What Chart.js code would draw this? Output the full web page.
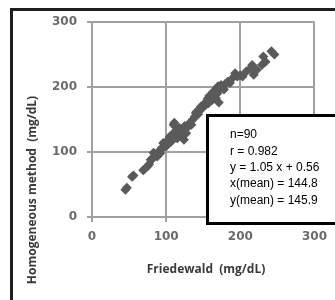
<!DOCTYPE html>
<html>
<head>
<meta charset="utf-8">
<script src="https://cdn.jsdelivr.net/npm/chart.js@4/dist/chart.umd.min.js"></script>
<style>
  body { margin: 0; background: #fff; }
  #wrap { width: 335px; height: 300px; }
</style>
</head>
<body>
<div id="wrap"><canvas id="scatter" width="335" height="300"></canvas></div>
<script>
// Friedewald vs homogeneous method
const friedewald = [45, 47, 54, 56, 69, 71, 75, 77, 79, 82, 83, 86, 88, 90, 92, 94, 96, 97, 99, 100,
  101, 103, 104, 105, 107, 108, 109, 110, 111, 113, 114, 115, 116, 118, 120, 122, 124, 125, 127, 128,
  131, 134, 136, 139, 140, 141, 143, 145, 147, 149, 151, 153, 155, 156, 157, 158, 160, 161, 162, 163,
  164, 165, 166, 167, 168, 169, 170, 171, 172, 174, 176, 178, 180, 183, 186, 189, 193, 196, 200, 203,
  208, 213, 216, 218, 222, 229, 231, 234, 242, 246];
const homogeneous = [42, 45, 62, 64, 72, 74, 78, 81, 88, 90, 99, 95, 93, 101, 98, 106, 114, 108, 110, 109,
  117, 113, 119, 124, 116, 127, 122, 142, 145, 139, 134, 121, 131, 137, 128, 134, 119, 140, 129, 137,
  144, 142, 150, 155, 160, 162, 158, 163, 170, 168, 174, 172, 178, 182, 175, 186, 184, 189, 180, 192,
  186, 191, 195, 183, 198, 190, 201, 176, 196, 203, 199, 196, 205, 208, 206, 213, 221, 216, 218, 216,
  224, 228, 234, 219, 226, 234, 247, 239, 255, 250];
const tickValues = [0, 100, 200, 300];
const statsLines = ["n=90", "r = 0.982", "y = 1.05 x + 0.56", "x(mean) = 144.8", "y(mean) = 145.9"];
const xTitle = "Friedewald  (mg/dL)";
const yTitle = "Homogeneous method  (mg/dL)";

const points = friedewald.map((x, i) => ({ x: x, y: homogeneous[i] }));
const gridColor = "#a0a0a0";

const frame = {
  id: "frame",
  beforeDraw(chart) {
    const ctx = chart.ctx;
    ctx.save();
    ctx.strokeStyle = "#1e1e1e";
    ctx.lineWidth = 3;
    ctx.strokeRect(11.5, 9.5, 400, 400);
    // axis titles
    ctx.fillStyle = "#3a3a3a";
    ctx.font = "bold 12px 'Open Sans'";
    ctx.textAlign = "center";
    ctx.textBaseline = "middle";
    ctx.fillText(xTitle, 206, 270);
    ctx.translate(33, 190);
    ctx.rotate(-Math.PI / 2);
    ctx.fillText(yTitle, 0, 0);
    ctx.restore();
  },
  afterDatasetsDraw(chart) {
    // stats box sits on top of the points
    const ctx = chart.ctx;
    ctx.save();
    ctx.fillStyle = "#fff";
    ctx.fillRect(206, 114, 140, 110);
    ctx.strokeStyle = "#000";
    ctx.lineWidth = 3;
    ctx.strokeRect(207.5, 115.5, 140, 108);
    ctx.fillStyle = "#000";
    ctx.font = "12px 'Liberation Sans'";
    ctx.textAlign = "left";
    ctx.textBaseline = "middle";
    statsLines.forEach((line, i) => {
      ctx.fillText(line, 230, 135 + i * 16.3);
    });
    ctx.restore();
  }
};

const tickFont = { family: "'DejaVu Sans'", size: 12, weight: "bold" };
const step = tickValues[1] - tickValues[0];

new Chart(document.getElementById("scatter"), {
  type: "scatter",
  data: {
    datasets: [{
      data: points,
      pointStyle: "rectRot",
      pointRadius: 5,
      pointBorderWidth: 0,
      pointBackgroundColor: "#5a5a5a",
      pointBorderColor: "#5a5a5a"
    }]
  },
  options: {
    responsive: false,
    animation: false,
    events: [],
    layout: { padding: { top: 22, right: 0, left: 0, bottom: 0 } },
    plugins: { legend: { display: false }, tooltip: { enabled: false } },
    scales: {
      x: {
        type: "linear",
        min: tickValues[0],
        max: tickValues[tickValues.length - 1],
        afterFit: (scale) => { scale.height = 83; },
        grid: { color: gridColor, lineWidth: 2, tickLength: 5 },
        border: { color: gridColor, width: 2 },
        ticks: { stepSize: step, color: "#6a6a6a", font: tickFont, padding: 8, maxRotation: 0 }
      },
      y: {
        type: "linear",
        min: tickValues[0],
        max: tickValues[tickValues.length - 1],
        afterFit: (scale) => { scale.width = 92; },
        grid: { color: gridColor, lineWidth: 2, tickLength: 5 },
        border: { color: gridColor, width: 2 },
        ticks: { stepSize: step, color: "#6a6a6a", font: tickFont, padding: 10 }
      }
    }
  },
  plugins: [frame]
});
</script>
</body>
</html>
